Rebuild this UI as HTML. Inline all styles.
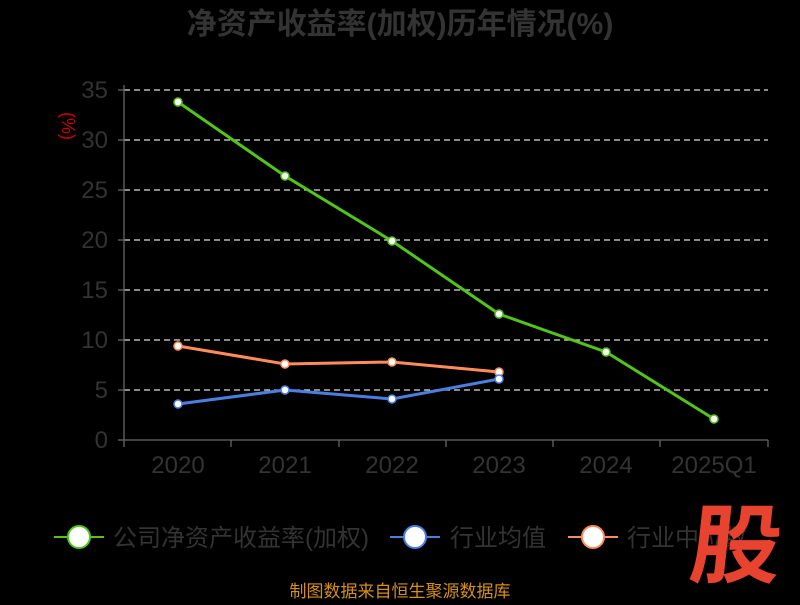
<!DOCTYPE html>
<html><head><meta charset="utf-8"><style>
body{margin:0;background:#000;width:800px;height:600px;overflow:hidden;font-family:"Liberation Sans","Noto Sans CJK SC",sans-serif}
</style></head><body>
<svg width="800" height="600" xmlns="http://www.w3.org/2000/svg" style="font-family:'Liberation Sans','Noto Sans CJK SC',sans-serif">
<rect width="800" height="600" fill="#000"/>
<text x="400" y="34" text-anchor="middle" font-size="30" font-weight="bold" fill="#333">净资产收益率(加权)历年情况(%)</text>
<text x="62" y="126" font-size="18" fill="#c00" transform="rotate(90 62 126)" text-anchor="middle">(%)</text>
<g stroke="#ddd" stroke-dasharray="6,4" stroke-width="1.3">
<line x1="124" x2="768" y1="90" y2="90"/><line x1="124" x2="768" y1="140" y2="140"/>
<line x1="124" x2="768" y1="190" y2="190"/><line x1="124" x2="768" y1="240" y2="240"/>
<line x1="124" x2="768" y1="290" y2="290"/><line x1="124" x2="768" y1="340" y2="340"/>
<line x1="124" x2="768" y1="390" y2="390"/>
</g>
<g stroke="#666" stroke-width="1.3">
<line x1="124" x2="768" y1="440" y2="440"/><line x1="124" x2="124" y1="85" y2="440"/>
<line x1="118" x2="124" y1="90" y2="90"/><line x1="118" x2="124" y1="140" y2="140"/><line x1="118" x2="124" y1="190" y2="190"/><line x1="118" x2="124" y1="240" y2="240"/><line x1="118" x2="124" y1="290" y2="290"/><line x1="118" x2="124" y1="340" y2="340"/><line x1="118" x2="124" y1="390" y2="390"/><line x1="118" x2="124" y1="440" y2="440"/>
<line x1="124" x2="124" y1="440" y2="447"/><line x1="231" x2="231" y1="440" y2="447"/><line x1="339" x2="339" y1="440" y2="447"/><line x1="446" x2="446" y1="440" y2="447"/><line x1="553" x2="553" y1="440" y2="447"/><line x1="660" x2="660" y1="440" y2="447"/><line x1="768" x2="768" y1="440" y2="447"/>
</g>
<g font-size="24" fill="#333" text-anchor="end">
<text x="108" y="98">35</text><text x="108" y="148">30</text><text x="108" y="198">25</text><text x="108" y="248">20</text><text x="108" y="298">15</text><text x="108" y="348">10</text><text x="108" y="398">5</text><text x="108" y="448">0</text>
</g>
<g font-size="24" fill="#333" text-anchor="middle">
<text x="178" y="473">2020</text><text x="285" y="473">2021</text><text x="392" y="473">2022</text><text x="499" y="473">2023</text><text x="606" y="473">2024</text><text x="714" y="473">2025Q1</text>
</g>
<polyline fill="none" stroke="#52c41a" stroke-width="3" points="178,102 285,176 392,241 499,314 606,352 714,419"/>
<polyline fill="none" stroke="#ff8c5a" stroke-width="3" points="178,346 285,364 392,362 499,372"/>
<polyline fill="none" stroke="#4a7fe0" stroke-width="3" points="178,404 285,390 392,399 499,379"/>
<g fill="#fff" stroke-width="1.5">
<g stroke="#52c41a"><circle cx="178" cy="102" r="4"/><circle cx="285" cy="176" r="4"/><circle cx="392" cy="241" r="4"/><circle cx="499" cy="314" r="4"/><circle cx="606" cy="352" r="4"/><circle cx="714" cy="419" r="4"/></g>
<g stroke="#ff8c5a"><circle cx="178" cy="346" r="4"/><circle cx="285" cy="364" r="4"/><circle cx="392" cy="362" r="4"/><circle cx="499" cy="372" r="4"/></g>
<g stroke="#4a7fe0"><circle cx="178" cy="404" r="4"/><circle cx="285" cy="390" r="4"/><circle cx="392" cy="399" r="4"/><circle cx="499" cy="379" r="4"/></g>
</g>
<g stroke-width="2">
<line x1="54" x2="104" y1="537" y2="537" stroke="#52c41a"/><circle cx="79" cy="537" r="11" fill="#fff" stroke="#52c41a"/>
<line x1="390" x2="440" y1="537" y2="537" stroke="#4a7fe0"/><circle cx="415" cy="537" r="11" fill="#fff" stroke="#4a7fe0"/>
<line x1="568" x2="618" y1="537" y2="537" stroke="#ff8c5a"/><circle cx="593" cy="537" r="11" fill="#fff" stroke="#ff8c5a"/>
</g>
<g font-size="24" fill="#333">
<text x="113" y="546">公司净资产收益率(加权)</text><text x="450" y="546">行业均值</text><text x="627" y="546">行业中位数</text>
</g>
<g transform="translate(733,576) scale(0.95,0.9) skewX(-6)">
<text x="0" y="0" font-size="96" font-weight="bold" fill="#e8432e" text-anchor="middle">股</text>
</g>
<text x="400" y="597" font-size="17" fill="#d4901a" text-anchor="middle">制图数据来自恒生聚源数据库</text>
</svg>
</body></html>
